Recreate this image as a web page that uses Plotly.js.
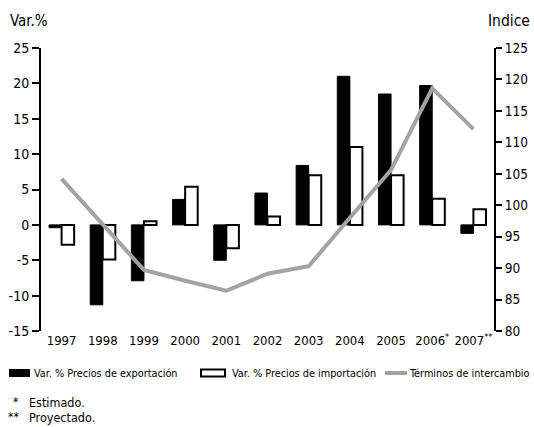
<!DOCTYPE html>
<html>
<head>
<meta charset="utf-8">
<script src="https://cdn.plot.ly/plotly-3.0.1.min.js"></script>
<style>html,body{margin:0;padding:0;background:#fff}#chart{width:534px;height:427px}</style>
</head>
<body>
<div id="chart"></div>
<script>
// ---- data ----
var years = ["1997","1998","1999","2000","2001","2002","2003","2004","2005","2006","2007"];
var yearLabels = ["1997","1998","1999","2000","2001","2002","2003","2004","2005","2006<sup>*</sup>","2007<sup>**</sup>"];
var exportPrices = [-0.4, -11.3, -7.9, 3.6, -5.0, 4.5, 8.4, 21.0, 18.5, 19.7, -1.2];
var importPrices = [-2.8, -4.9, 0.5, 5.4, -3.3, 1.2, 7.0, 11.0, 7.0, 3.7, 2.2];
var termsOfTrade = [104.2, 97.0, 89.7, 88.0, 86.4, 89.1, 90.3, 98.0, 105.6, 118.6, 112.1];
var leftTickVals = [-15, -10, -5, 0, 5, 10, 15, 20, 25];
var leftTickText = ["-15", "-10", "-5", "0", "5", "10", "15", "20", "25"];
var rightTickVals = [80, 85, 90, 95, 100, 105, 110, 115, 120, 125];
var seriesNames = ["Var. % Precios de exportación", "Var. % Precios de importación", "Términos de intercambio"];
var footnotes = [["*", "Estimado."], ["**", "Proyectado."]];
var leftTitle = "Var.%";
var rightTitle = "Indice";

// ---- geometry helpers (pixel -> paper) ----
var W = 534, H = 427, L = 41, R = 40, T = 48, B = 96;
var pw = W - L - R, ph = H - T - B;
function px(x) { return (x - L) / pw; }
function py(y) { return (H - B - y) / ph; }

var FONT = '"DejaVu Sans Condensed", "Liberation Sans Narrow", sans-serif';

var catIdx = years.map(function (_, i) { return i; });
var boundaries = years.slice(0, years.length - 1).map(function (_, i) { return i + 0.5; });

var traces = [
  {
    type: "bar", x: catIdx, y: exportPrices, name: seriesNames[0],
    marker: { color: "#000000", line: { color: "#000000", width: 1 } },
    xaxis: "x", yaxis: "y", showlegend: false, hoverinfo: "skip"
  },
  {
    type: "bar", x: catIdx, y: importPrices, name: seriesNames[1],
    marker: { color: "#ffffff", line: { color: "#000000", width: 2 } },
    xaxis: "x", yaxis: "y", showlegend: false, hoverinfo: "skip"
  },
  {
    type: "scatter", mode: "lines", x: catIdx, y: termsOfTrade, name: seriesNames[2],
    line: { color: "#a3a3a3", width: 4 },
    xaxis: "x", yaxis: "y2", showlegend: false, hoverinfo: "skip"
  }
];

var axisCommon = { showgrid: false, zeroline: false, fixedrange: true };

var layout = {
  width: W, height: H,
  margin: { l: L, r: R, t: T, b: B, pad: 0 },
  paper_bgcolor: "#ffffff", plot_bgcolor: "rgba(0,0,0,0)",
  font: { family: FONT, color: "#000000", size: 13 },
  barmode: "group", bargap: 0.39, bargroupgap: 0,
  showlegend: false,
  xaxis: Object.assign({}, axisCommon, {
    type: "linear", range: [-0.5, years.length - 0.5],
    tickmode: "array", tickvals: catIdx, ticktext: yearLabels, tickangle: 0,
    showline: false, ticks: "", tickfont: { size: 13, family: FONT },
    anchor: "y"
  }),
  xaxis2: Object.assign({}, axisCommon, {
    type: "linear", range: [-0.5, years.length - 0.5], overlaying: "x",
    anchor: "free", position: 0.375,
    showline: true, linecolor: "#000000", linewidth: 2,
    ticks: "outside", ticklen: 7, tickwidth: 1.5, tickcolor: "#000000",
    tickmode: "array", tickvals: boundaries, showticklabels: false
  }),
  xaxis3: Object.assign({}, axisCommon, {
    type: "linear", range: [-0.5, years.length - 0.5], overlaying: "x",
    anchor: "free", position: 0.375,
    showline: false,
    ticks: "inside", ticklen: 7, tickwidth: 1.5, tickcolor: "#000000",
    tickmode: "array", tickvals: boundaries, showticklabels: false
  }),
  yaxis: Object.assign({}, axisCommon, {
    range: [-15, 25], tickmode: "array", tickvals: leftTickVals, ticktext: leftTickText,
    showline: true, linecolor: "#000000", linewidth: 2,
    ticks: "outside", ticklen: 7, tickwidth: 2, tickcolor: "#000000",
    tickfont: { size: 14, family: FONT }, anchor: "x"
  }),
  yaxis2: Object.assign({}, axisCommon, {
    range: [80, 125], tickmode: "array", tickvals: rightTickVals,
    overlaying: "y", side: "right", anchor: "x",
    showline: true, linecolor: "#000000", linewidth: 2,
    ticks: "outside", ticklen: 6, tickwidth: 2, tickcolor: "#000000",
    tickfont: { size: 13.5, family: FONT }
  }),
  shapes: [
    { type: "rect", xref: "paper", yref: "paper", x0: px(9), x1: px(30), y0: py(377), y1: py(369),
      fillcolor: "#000000", line: { width: 0 } },
    { type: "rect", xref: "paper", yref: "paper", x0: px(201), x1: px(225), y0: py(376.5), y1: py(369.5),
      fillcolor: "#ffffff", line: { color: "#000000", width: 2 } },
    { type: "line", xref: "paper", yref: "paper", x0: px(385), x1: px(407), y0: py(373), y1: py(373),
      line: { color: "#a3a3a3", width: 4 } }
  ],
  annotations: [
    { text: leftTitle, xref: "paper", yref: "paper", x: px(8), y: py(21), xanchor: "left", yanchor: "middle",
      showarrow: false, font: { size: 15, family: FONT } },
    { text: rightTitle, xref: "paper", yref: "paper", x: px(532), y: py(21), xanchor: "right", yanchor: "middle",
      showarrow: false, font: { size: 15.5, family: FONT } },
    { text: seriesNames[0], xref: "paper", yref: "paper", x: px(32), y: py(373), xanchor: "left", yanchor: "middle",
      showarrow: false, font: { size: 10.8, family: FONT } },
    { text: seriesNames[1], xref: "paper", yref: "paper", x: px(230), y: py(373), xanchor: "left", yanchor: "middle",
      showarrow: false, font: { size: 10.8, family: FONT } },
    { text: seriesNames[2], xref: "paper", yref: "paper", x: px(532), y: py(373), xanchor: "right", yanchor: "middle",
      showarrow: false, font: { size: 10.8, family: FONT } },
    { text: footnotes[0][0], xref: "paper", yref: "paper", x: px(21), y: py(402), xanchor: "right", yanchor: "middle",
      showarrow: false, font: { size: 12, family: FONT } },
    { text: footnotes[0][1], xref: "paper", yref: "paper", x: px(27), y: py(402), xanchor: "left", yanchor: "middle",
      showarrow: false, font: { size: 12.5, family: FONT } },
    { text: footnotes[1][0], xref: "paper", yref: "paper", x: px(21), y: py(417), xanchor: "right", yanchor: "middle",
      showarrow: false, font: { size: 12, family: FONT } },
    { text: footnotes[1][1], xref: "paper", yref: "paper", x: px(27), y: py(417), xanchor: "left", yanchor: "middle",
      showarrow: false, font: { size: 12.5, family: FONT } }
  ]
};

Plotly.newPlot("chart", traces, layout, { staticPlot: true, displayModeBar: false });
</script>
</body>
</html>
